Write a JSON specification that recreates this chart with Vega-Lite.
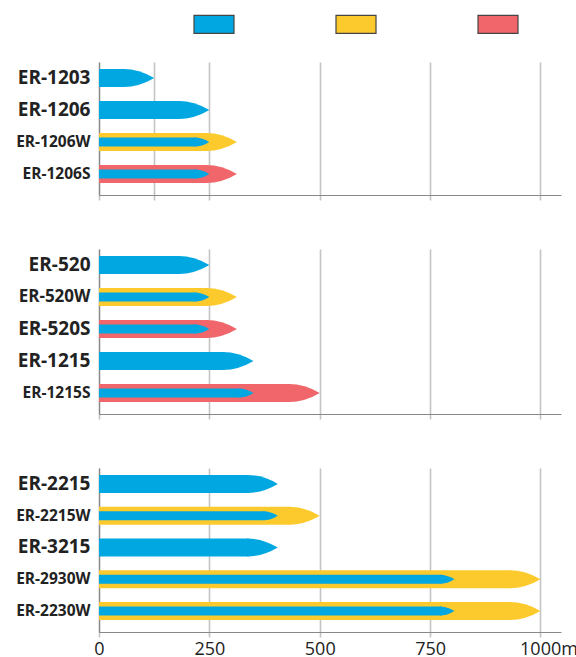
{
  "$schema": "https://vega.github.io/schema/vega-lite/v6.json",
  "padding": {"left": 14, "top": 3, "right": 0, "bottom": 0},
  "background": "white",
  "datasets": {
    "g1": [
      {"model": "ER-1203", "outer": 125, "type": "blue", "inner": null},
      {"model": "ER-1206", "outer": 250, "type": "blue", "inner": null},
      {"model": "ER-1206W", "outer": 312.5, "type": "yellow", "inner": 250},
      {"model": "ER-1206S", "outer": 312.5, "type": "red", "inner": 250}
    ],
    "g2": [
      {"model": "ER-520", "outer": 250, "type": "blue", "inner": null},
      {"model": "ER-520W", "outer": 312.5, "type": "yellow", "inner": 250},
      {"model": "ER-520S", "outer": 312.5, "type": "red", "inner": 250},
      {"model": "ER-1215", "outer": 350, "type": "blue", "inner": null},
      {"model": "ER-1215S", "outer": 500, "type": "red", "inner": 350}
    ],
    "g3": [
      {"model": "ER-2215", "outer": 405, "type": "blue", "inner": null},
      {"model": "ER-2215W", "outer": 500, "type": "yellow", "inner": 405},
      {"model": "ER-3215", "outer": 405, "type": "blue", "inner": null},
      {"model": "ER-2930W", "outer": 1000, "type": "yellow", "inner": 805},
      {"model": "ER-2230W", "outer": 1000, "type": "yellow", "inner": 805}
    ]
  },
  "spacing": 48,
  "config": {
    "view": {"stroke": null},
    "axis": {"domainColor": "#888888", "domainWidth": 1.2, "gridColor": "#c4c4c4", "gridWidth": 1.6, "tickColor": "#c4c4c4", "tickWidth": 1.6}
  },
  "vconcat": [
    {
      "data": {"name": "g1"},
      "width": 462,
      "height": 133,
      "encoding": {
        "y": {"field": "model", "type": "nominal", "sort": null, "title": null,
          "scale": {"paddingInner": 0, "paddingOuter": 0.08, "align": 0},
          "axis": {"ticks": false, "grid": false, "labelPadding": 9, "minExtent": 85, "maxExtent": 85, "labelLimit": 200,
            "labelFont": "Open Sans",
            "labelFontSize": {"expr": "length(datum.label) > 7 ? 15.5 : (indexof(datum.label, 'W') >= 0 ? 17 : 19)"},
            "labelFontWeight": "bold", "labelColor": "#222222"}}
      },
      "layer": [
        {"mark": {"type": "bar", "height": 18, "xOffset": -29, "opacity": 1},
          "encoding": {
            "x": {"field": "outer", "type": "quantitative", "title": null,
              "scale": {"domain": [0, 1046.5], "nice": false},
              "axis": {"values": [0, 125, 250, 500, 750, 1000], "labels": false, "ticks": true, "tickSize": 5, "grid": true}},
            "x2": {"datum": 0},
            "color": {"field": "type", "type": "nominal",
              "scale": {"domain": ["blue", "yellow", "red"], "range": ["#00a7e1", "#fdca2e", "#f0666b"]},
              "legend": {"title": null, "orient": "none", "direction": "horizontal", "legendX": 94, "legendY": -59,
                "symbolType": "M-1,-0.45H1V0.45H-1Z", "symbolSize": 1600, "symbolStrokeColor": "#444444", "symbolStrokeWidth": 1.2,
                "symbolOpacity": 1, "labelExpr": "''", "labelOffset": 0, "columnPadding": 96, "padding": 0}}
          }},
        {"mark": {"type": "point", "shape": "M-1.05,-0.6 Q0,-0.6 1,0 Q0,0.6 -1.05,0.6 Z", "size": 900, "filled": true, "opacity": 1, "strokeWidth": 0, "xOffset": -15},
          "encoding": {"x": {"field": "outer", "type": "quantitative"}, "color": {"field": "type", "type": "nominal"}}},
        {"mark": {"type": "bar", "height": 9, "xOffset": -13, "opacity": 1, "color": "#00a7e1"},
          "encoding": {"x": {"field": "inner", "type": "quantitative"}, "x2": {"datum": 0}}},
        {"mark": {"type": "point", "shape": "M-1.1,-0.643 Q0,-0.643 1,0 Q0,0.643 -1.1,0.643 Z", "size": 196, "filled": true, "opacity": 1, "strokeWidth": 0, "xOffset": -7, "color": "#00a7e1"},
          "encoding": {"x": {"field": "inner", "type": "quantitative"}}}
      ]
    },
    {
      "data": {"name": "g2"},
      "width": 462,
      "height": 165,
      "encoding": {
        "y": {"field": "model", "type": "nominal", "sort": null, "title": null,
          "scale": {"paddingInner": 0, "paddingOuter": 0.08, "align": 0},
          "axis": {"ticks": false, "grid": false, "labelPadding": 9, "minExtent": 85, "maxExtent": 85, "labelLimit": 200,
            "labelFont": "Open Sans",
            "labelFontSize": {"expr": "length(datum.label) > 7 ? 15.5 : (indexof(datum.label, 'W') >= 0 ? 17 : 19)"},
            "labelFontWeight": "bold", "labelColor": "#222222"}}
      },
      "layer": [
        {"mark": {"type": "bar", "height": 18, "xOffset": -29, "opacity": 1},
          "encoding": {
            "x": {"field": "outer", "type": "quantitative", "title": null,
              "scale": {"domain": [0, 1046.5], "nice": false},
              "axis": {"values": [0, 250, 500, 750, 1000], "labels": false, "ticks": true, "tickSize": 5, "grid": true}},
            "x2": {"datum": 0},
            "color": {"field": "type", "type": "nominal",
              "scale": {"domain": ["blue", "yellow", "red"], "range": ["#00a7e1", "#fdca2e", "#f0666b"]},
              "legend": {"title": null, "orient": "none", "direction": "horizontal", "legendX": 94, "legendY": -59,
                "symbolType": "M-1,-0.45H1V0.45H-1Z", "symbolSize": 1600, "symbolStrokeColor": "#444444", "symbolStrokeWidth": 1.2,
                "symbolOpacity": 1, "labelExpr": "''", "labelOffset": 0, "columnPadding": 96, "padding": 0}}
          }},
        {"mark": {"type": "point", "shape": "M-1.05,-0.6 Q0,-0.6 1,0 Q0,0.6 -1.05,0.6 Z", "size": 900, "filled": true, "opacity": 1, "strokeWidth": 0, "xOffset": -15},
          "encoding": {"x": {"field": "outer", "type": "quantitative"}, "color": {"field": "type", "type": "nominal"}}},
        {"mark": {"type": "bar", "height": 9, "xOffset": -13, "opacity": 1, "color": "#00a7e1"},
          "encoding": {"x": {"field": "inner", "type": "quantitative"}, "x2": {"datum": 0}}},
        {"mark": {"type": "point", "shape": "M-1.1,-0.643 Q0,-0.643 1,0 Q0,0.643 -1.1,0.643 Z", "size": 196, "filled": true, "opacity": 1, "strokeWidth": 0, "xOffset": -7, "color": "#00a7e1"},
          "encoding": {"x": {"field": "inner", "type": "quantitative"}}}
      ]
    },
    {
      "data": {"name": "g3"},
      "width": 462,
      "height": 164,
      "encoding": {
        "y": {"field": "model", "type": "nominal", "sort": null, "title": null,
          "scale": {"paddingInner": 0, "paddingOuter": 0.08, "align": 0},
          "axis": {"ticks": false, "grid": false, "labelPadding": 9, "minExtent": 85, "maxExtent": 85, "labelLimit": 200,
            "labelFont": "Open Sans",
            "labelFontSize": {"expr": "length(datum.label) > 7 ? 15.5 : (indexof(datum.label, 'W') >= 0 ? 17 : 19)"},
            "labelFontWeight": "bold", "labelColor": "#222222"}}
      },
      "layer": [
        {"mark": {"type": "bar", "height": 18, "xOffset": -29, "opacity": 1},
          "encoding": {
            "x": {"field": "outer", "type": "quantitative", "title": null,
              "scale": {"domain": [0, 1046.5], "nice": false},
              "axis": {"values": [0, 250, 500, 750, 1000], "labels": true, "ticks": true, "tickSize": 5, "grid": true,
                "labelFlush": false, "labelOverlap": false, "labelPadding": 3,
                "labelExpr": "datum.value == 1000 ? '1000m' : datum.label",
                "labelOffset": {"expr": "datum.value == 1000 ? 8 : 0"},
                "labelFont": "Open Sans", "labelFontSize": 18, "labelColor": "#222222"}},
            "x2": {"datum": 0},
            "color": {"field": "type", "type": "nominal",
              "scale": {"domain": ["blue", "yellow", "red"], "range": ["#00a7e1", "#fdca2e", "#f0666b"]},
              "legend": {"title": null, "orient": "none", "direction": "horizontal", "legendX": 94, "legendY": -59,
                "symbolType": "M-1,-0.45H1V0.45H-1Z", "symbolSize": 1600, "symbolStrokeColor": "#444444", "symbolStrokeWidth": 1.2,
                "symbolOpacity": 1, "labelExpr": "''", "labelOffset": 0, "columnPadding": 96, "padding": 0}}
          }},
        {"mark": {"type": "point", "shape": "M-1.05,-0.6 Q0,-0.6 1,0 Q0,0.6 -1.05,0.6 Z", "size": 900, "filled": true, "opacity": 1, "strokeWidth": 0, "xOffset": -15},
          "encoding": {"x": {"field": "outer", "type": "quantitative"}, "color": {"field": "type", "type": "nominal"}}},
        {"mark": {"type": "bar", "height": 9, "xOffset": -13, "opacity": 1, "color": "#00a7e1"},
          "encoding": {"x": {"field": "inner", "type": "quantitative"}, "x2": {"datum": 0}}},
        {"mark": {"type": "point", "shape": "M-1.1,-0.643 Q0,-0.643 1,0 Q0,0.643 -1.1,0.643 Z", "size": 196, "filled": true, "opacity": 1, "strokeWidth": 0, "xOffset": -7, "color": "#00a7e1"},
          "encoding": {"x": {"field": "inner", "type": "quantitative"}}}
      ]
    }
  ]
}
